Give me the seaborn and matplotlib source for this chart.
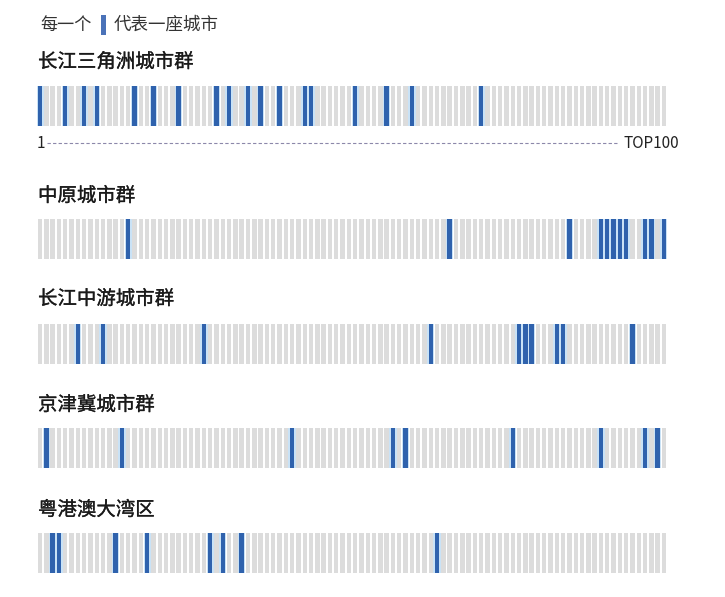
import matplotlib
matplotlib.use("Agg")
import matplotlib.pyplot as plt
import matplotlib.patheffects as pe
import seaborn as sns
import pandas as pd
import numpy as np
from matplotlib.patches import Rectangle

sns.set_theme(style="white")
plt.rcParams['font.family'] = ['Noto Sans CJK SC', 'DejaVu Sans']

# ---- data ----
ranks = list(range(1, 101))
group_names = ["长江三角洲城市群", "中原城市群", "长江中游城市群", "京津冀城市群", "粤港澳大湾区"]
# 0-based rank positions (rank-1) of the cities in each group among TOP100
yrd = [0, 4, 7, 9, 15, 18, 22, 28, 30, 33, 35, 38, 42, 43, 50, 55, 59, 70]
zhongyuan = [14, 65, 84, 89, 90, 91, 92, 93, 96, 97, 99]
yangtze_mid = [6, 10, 26, 62, 76, 77, 78, 82, 83, 94]
jingjinji = [1, 13, 40, 56, 58, 75, 89, 96, 98]
gba = [2, 3, 12, 17, 27, 29, 32, 63]
groups = [yrd, zhongyuan, yangtze_mid, jingjinji, gba]

title_left = "每一个"
title_right = "代表一座城市"
axis_start = "1"
axis_end = "TOP100"

# ---- style ----
W, H = 725, 597
BLUE = "#2f62ad"
HALO = "#c9e2f6"
GREY = "#dcdcdc"

fig = plt.figure(figsize=(W / 100, H / 100), dpi=100)
fig.patch.set_facecolor("white")

def fx(px):
    return px / W

def fy(py):
    return 1 - py / H

row_bar_top = [86, 219, 324, 428, 533]
row_title_y = [62, 196, 299, 405, 510]
bar_h = 40
left_px, right_px = 36.85, 667.15

for gi, (name, idxs) in enumerate(zip(group_names, groups)):
    top = row_bar_top[gi]
    ax = fig.add_axes([fx(left_px), fy(top + bar_h), fx(right_px - left_px), bar_h / H])
    is_city = np.zeros(100)
    is_city[idxs] = 1.0
    df = pd.DataFrame({
        "rank": ranks,
        "halo": is_city,
        "one": np.ones(100),
        "kind": np.where(is_city > 0, "city", "other"),
    })
    sns.barplot(data=df, x="rank", y="halo", color=HALO, width=1.15,
                linewidth=0, saturation=1, ax=ax)
    sns.barplot(data=df, x="rank", y="one", hue="kind",
                palette={"city": BLUE, "other": GREY}, dodge=False,
                width=0.7, linewidth=0, saturation=1, legend=False, ax=ax)
    ax.set_xlim(-0.5, 99.5)
    ax.set_ylim(0, 1)
    ax.axis("off")
    fig.text(fx(38), fy(row_title_y[gi]), name, fontsize=14, color="#1a1a1a",
             ha="left", va="center", fontweight="normal",
             path_effects=[pe.withStroke(linewidth=0.2, foreground="#1a1a1a")])

# header
fig.text(fx(40), fy(25), title_left, fontsize=12.3, color="#333333", ha="left", va="center")
fig.patches.append(Rectangle((fx(101), fy(35)), fx(5), 20 / H,
                             transform=fig.transFigure, facecolor="#4a72b8",
                             edgecolor="none"))
fig.text(fx(114), fy(25), title_right, fontsize=12.6, color="#333333", ha="left", va="center")

# axis under first row
fig.text(fx(37), fy(143), axis_start, fontsize=11, color="#222222", ha="left", va="center")
fig.text(fx(679), fy(143), axis_end, fontsize=11, color="#222222", ha="right", va="center")
fig.lines.append(plt.Line2D([fx(47), fx(619)], [fy(143), fy(143)], transform=fig.transFigure,
                            color="#8c88aa", linewidth=0.8, linestyle=(0, (3, 2))))

fig.savefig("out.png", dpi=100, facecolor="white")
